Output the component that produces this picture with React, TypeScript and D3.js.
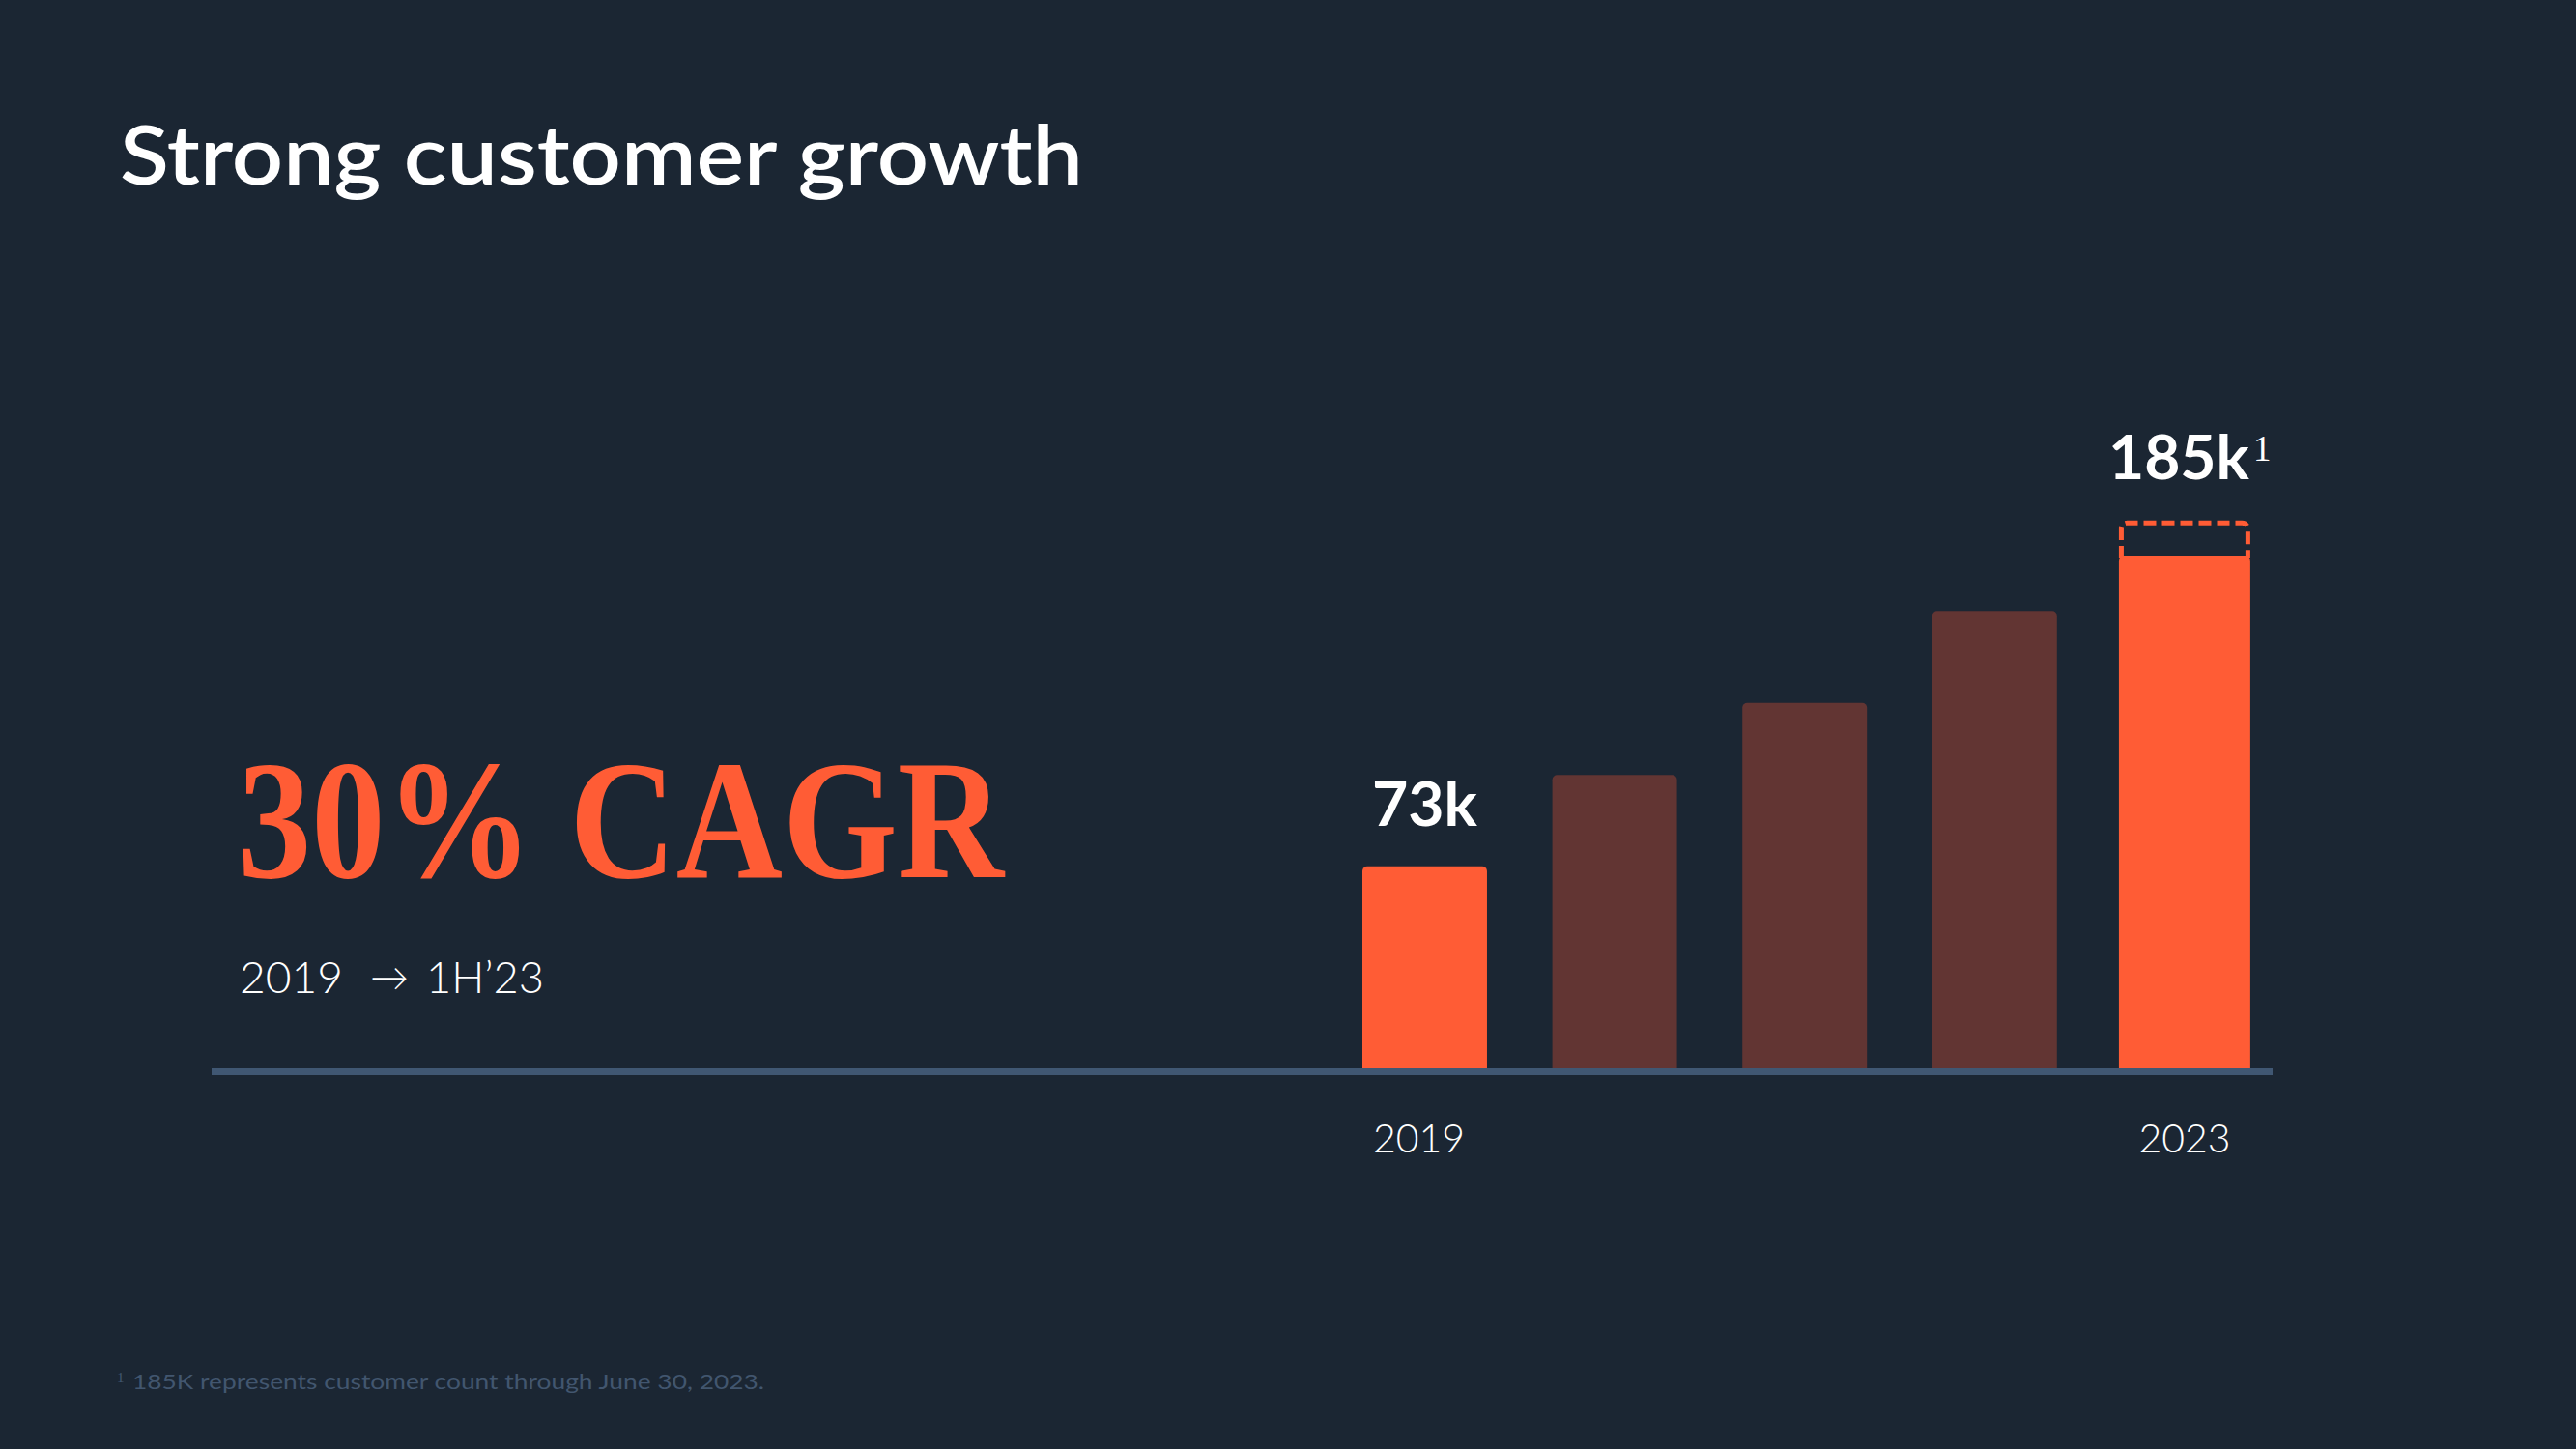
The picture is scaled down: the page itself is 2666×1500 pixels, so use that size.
import React from "react";
import * as d3 from "d3";

const years = ["2019", "2020", "2021", "2022", "2023"];
const customers = [73, 106, 132, 165, 185]; // thousands
const highlighted = [true, false, false, false, true];
const tickLabels = ["2019", "", "", "", "2023"];
const valueLabels = ["73k", "", "", "", "185k"];
const projectedTop = 198; // dashed outline top (k)

const W = 2666;
const H = 1500;
const BG = "#1B2633";
const ORANGE = "#FF5C35";
const DARK = "#623533";
const AXIS = "#405773";
const FOOT = "#42566F";
const SANS = "Lato, 'Open Sans', sans-serif";
const SERIF = "'Liberation Serif', 'DejaVu Serif', serif";

function topRoundedBar(x: number, y: number, w: number, h: number, r: number) {
  const p = d3.path();
  p.moveTo(x, y + h);
  p.lineTo(x, y + r);
  p.arcTo(x, y, x + r, y, r);
  p.lineTo(x + w - r, y);
  p.arcTo(x + w, y, x + w, y + r, r);
  p.lineTo(x + w, y + h);
  p.closePath();
  return p.toString();
}

export default function App() {
  const x = d3
    .scaleBand<string>()
    .domain(years)
    .range([1410, 2325.4])
    .paddingInner(0.344)
    .paddingOuter(0);
  const y = d3.scaleLinear().domain([0, 185]).range([1106, 576]);
  const bw = x.bandwidth();
  const lastExtra = 3.5;

  const last = years.length - 1;
  const lx = (x(years[last]) as number) - lastExtra;
  const lw = bw + lastExtra * 2;
  const sw = 5;
  const dTop = y(projectedTop) + sw / 2;
  const dBot = y(customers[last]) + 2;
  const rr = 6;
  const dash = d3.path();
  dash.moveTo(lx + sw / 2, dBot);
  dash.lineTo(lx + sw / 2, dTop + rr);
  dash.arcTo(lx + sw / 2, dTop, lx + sw / 2 + rr, dTop, rr);
  dash.lineTo(lx + lw - sw / 2 - rr, dTop);
  dash.arcTo(lx + lw - sw / 2, dTop, lx + lw - sw / 2, dTop + rr, rr);
  dash.lineTo(lx + lw - sw / 2, dBot);

  return (
    <svg
      width={W}
      height={H}
      viewBox={`0 0 ${W} ${H}`}
      style={{ position: "absolute", left: 0, top: 0, display: "block" }}
    >
      <rect x={0} y={0} width={W} height={H} fill={BG} />

      <text
        x={124}
        y={191}
        fill="#FFFFFF"
        fontFamily={SANS}
        fontWeight={600}
        fontSize={84}
        textLength={997}
        lengthAdjust="spacingAndGlyphs"
      >
        Strong customer growth
      </text>

      <text
        x={246}
        y={908}
        fill={ORANGE}
        fontFamily={SERIF}
        fontWeight={700}
        fontSize={176}
        textLength={793}
        lengthAdjust="spacingAndGlyphs"
      >
        30% CAGR
      </text>

      <g fill="#FFFFFF" fontFamily={SANS} fontWeight={300} fontSize={46}>
        <text x={248} y={1028} textLength={107} lengthAdjust="spacingAndGlyphs">2019</text>
        <text x={383} y={1026} fontSize={40}>→</text>
        <text x={441} y={1028} textLength={122} lengthAdjust="spacingAndGlyphs">1H’23</text>
      </g>

      {customers.map((v, i) => {
        const extra = i === last ? lastExtra : 0;
        const bx = (x(years[i]) as number) - extra;
        return (
          <path
            key={years[i]}
            d={topRoundedBar(bx, y(v), bw + extra * 2, y(0) - y(v) + 2, 5)}
            fill={highlighted[i] ? ORANGE : DARK}
          />
        );
      })}

      <path
        d={dash.toString()}
        fill="none"
        stroke={ORANGE}
        strokeWidth={sw}
        strokeDasharray="13 6"
      />

      <line x1={219} x2={2352} y1={1109.5} y2={1109.5} stroke={AXIS} strokeWidth={7} />

      {valueLabels.map((lab, i) => {
        if (!lab) return null;
        const cx = (x(years[i]) as number) + bw / 2;
        if (i === last) {
          return (
            <g key={lab}>
              <text
                x={cx + 67}
                y={496}
                textAnchor="end"
                fill="#FFFFFF"
                fontFamily={SANS}
                fontWeight={700}
                fontSize={64}
                textLength={146}
                lengthAdjust="spacingAndGlyphs"
              >
                {lab}
              </text>
              <text x={cx + 71} y={477} fill="#FFFFFF" fontFamily={SERIF} fontSize={37}>
                1
              </text>
            </g>
          );
        }
        return (
          <text
            key={lab}
            x={cx}
            y={855}
            textAnchor="middle"
            fill="#FFFFFF"
            fontFamily={SANS}
            fontWeight={700}
            fontSize={64}
            textLength={109}
            lengthAdjust="spacingAndGlyphs"
          >
            {lab}
          </text>
        );
      })}

      {tickLabels.map((lab, i) =>
        lab ? (
          <text
            key={"t" + i}
            x={(x(years[i]) as number) + bw / 2 - (i === 0 ? 6 : 0)}
            y={1193}
            textAnchor="middle"
            fill="#FFFFFF"
            fontFamily={SANS}
            fontWeight={300}
            fontSize={42}
            textLength={95}
            lengthAdjust="spacingAndGlyphs"
          >
            {lab}
          </text>
        ) : null
      )}

      <text x={121} y={1431} fill={FOOT} fontFamily={SERIF} fontSize={15}>
        1
      </text>
      <text
        x={137}
        y={1438}
        fill={FOOT}
        fontFamily={SANS}
        fontWeight={400}
        fontSize={21}
        textLength={654}
        lengthAdjust="spacingAndGlyphs"
      >
        185K represents customer count through June 30, 2023.
      </text>
    </svg>
  );
}
